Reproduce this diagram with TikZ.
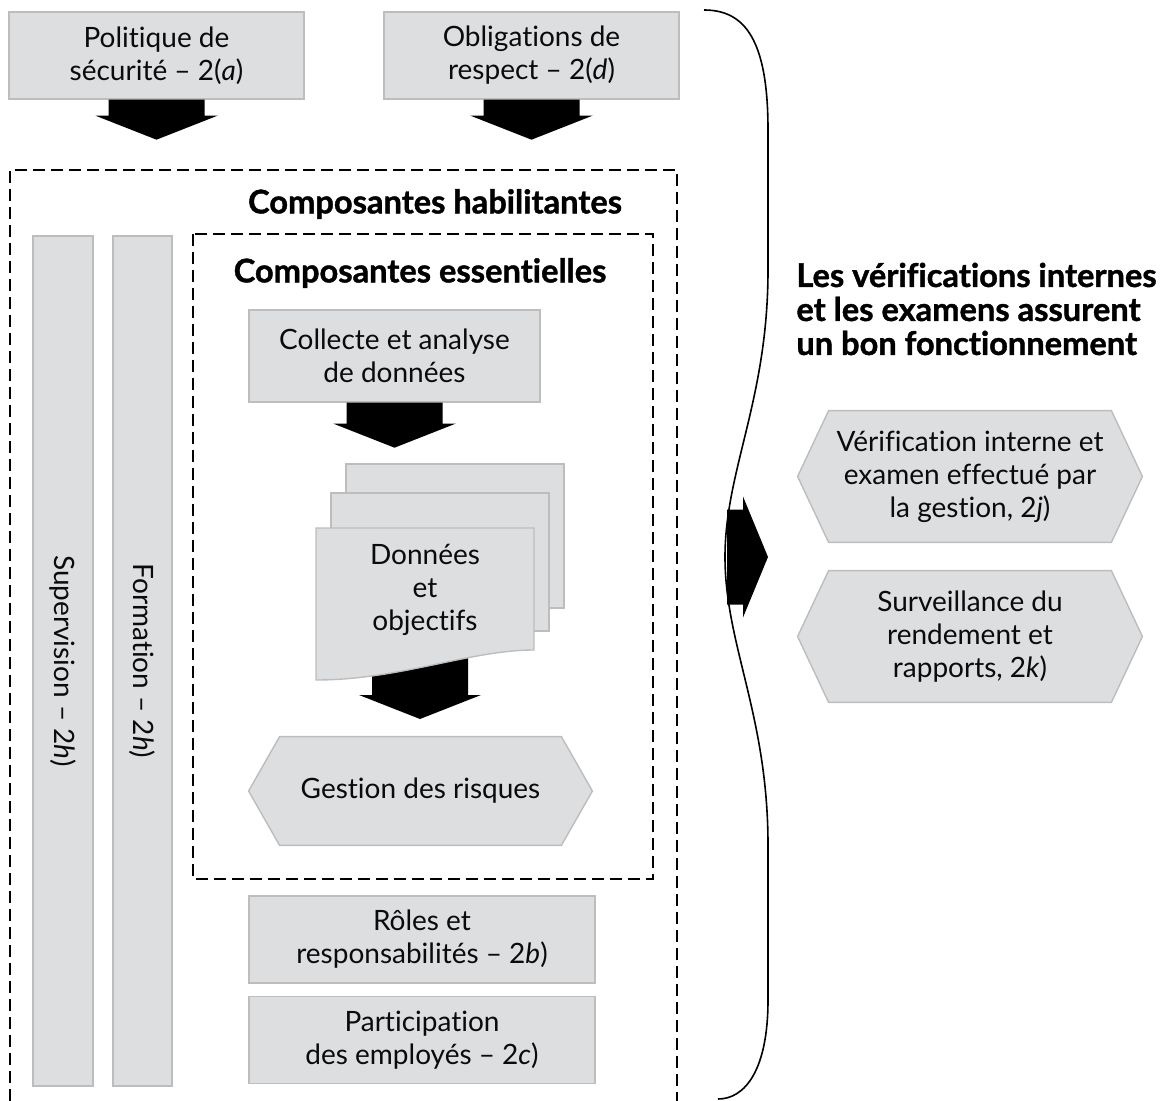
\documentclass[tikz,border=0pt]{standalone}
\usepackage{fontspec}
\setmainfont{Lato}[Ligatures=NoCommon,Contextuals=NoAlternate,
  BoldFeatures={FakeBold=1.2}]
\usepackage{xcolor}
\usetikzlibrary{calc,backgrounds}
\definecolor{tinta}{HTML}{0B0B0B}
\definecolor{grisCaja}{HTML}{DDDEE0}
\definecolor{bordeCaja}{HTML}{BDBDBD}

\tikzset{
  caja/.style={draw=bordeCaja,fill=grisCaja,line width=0.7pt,align=center,
               inner sep=0pt,font=\fontsize{14}{16.5}\selectfont\color{tinta}},
  textohex/.style={align=center,inner sep=0pt,
               font=\fontsize{14}{16.5}\selectfont\color{tinta}},
  hoja/.style={draw=bordeCaja,fill=grisCaja,line width=0.7pt},
  titulo/.style={inner sep=0pt,font=\fontsize{16.3}{17}\selectfont\bfseries},
  marco/.style={dash pattern=on 6pt off 3pt,line width=0.7pt},
  pics/flecha/.style={code={
    \fill[black] (-48,0) -- (48,0) -- (48,#1) -- (61,#1) -- (0,#1+24)
      -- (-61,#1) -- (-48,#1) -- cycle;}},
  pics/flechader/.style={code={
    \fill[black] (0,-47.5) -- (#1,-47.5) -- (#1,-60.5) -- (#1+25,0)
      -- (#1,60.5) -- (#1,47.5) -- (0,47.5) -- cycle;}},
}
\newcommand{\hexa}[1]{%
  \draw[hoja] (#1.west) -- ([xshift=15.5pt]#1.north west)
    -- ([xshift=-15.5pt]#1.north east) -- (#1.east)
    -- ([xshift=-15.5pt]#1.south east) -- ([xshift=15.5pt]#1.south west) -- cycle;}

\begin{document}
\begin{tikzpicture}[x=0.5pt,y=-0.5pt]
  \useasboundingbox (0,0) rectangle (1162,1101);
  % entradas
  \node[caja,minimum width=147.5pt,minimum height=43.5pt] (pol) at (156.5,55.5)
    {Politique de\\sécurité – 2(\textit{a})};
  \node[caja,minimum width=147.5pt,minimum height=43.5pt] (obl) at (531.5,55.5)
    {Obligations de\\respect – 2(\textit{d})};
  \pic at (pol.south) {flecha=16};
  \pic at (obl.south) {flecha=16};
  % composantes habilitantes
  \draw[marco] (10,1101) -- (10,170) -- (677,170) -- (677,1101);
  \node[titulo] (hab) at (435,204) {Composantes habilitantes};
  \node[caja,rotate=-90,minimum width=425pt,minimum height=30pt] (sup) at (63,661)
    {Supervision – 2\textit{h})};
  \node[caja,rotate=-90,minimum width=425pt,minimum height=29.5pt] (for) at (142.5,661)
    {Formation – 2\textit{h})};
  % composantes essentielles
  \draw[marco] (193,234) rectangle (653,879);
  \node[titulo] (ess) at (420,273) {Composantes essentielles};
  \node[caja,minimum width=145.5pt,minimum height=46pt] (col) at (394.5,356)
    {Collecte et analyse\\de données};
  \pic at (col.south) {flecha=21};
  \pic at (420,650) {flecha=45};
  \draw[hoja] (346,464) rectangle (564,608);
  \draw[hoja] (331,493) rectangle (549,631);
  \draw[hoja] (316,528) -- (534,528) -- (534,650)
    .. controls (470,650) and (400,680) .. (316,680) -- cycle;
  \node[textohex] (don) at (425,590) {Données\\et\\objectifs};
  \node[textohex,minimum width=171.5pt,minimum height=54pt] (rie) at (420.5,791)
    {Gestion des risques};
  \node[caja,minimum width=173pt,minimum height=43.5pt] (rol) at (422,939.5)
    {Rôles et\\responsabilités – 2\textit{b})};
  \node[caja,minimum width=173pt,minimum height=43.5pt] (par) at (422,1040)
    {Participation\\des employés – 2\textit{c})};
  % accolade et examens
  \pic at (727,557) {flechader=16};
  \draw[line width=0.8pt] (704,10) .. controls (745,10) and (768,40) .. (768,130)
    -- (768,270) .. controls (768,400) and (725,470) .. (725,557)
    .. controls (725,645) and (768,715) .. (768,845)
    -- (768,1000) .. controls (768,1070) and (745,1099) .. (718,1099);
  \node[titulo,anchor=west,align=left] (ver) at (796,309)
    {Les vérifications internes\\et les examens assurent\\un bon fonctionnement};
  \node[textohex,minimum width=172pt,minimum height=65.5pt] (vin) at (970,476.5)
    {Vérification interne et\\examen effectué par\\la gestion, 2\textit{j})};
  \node[textohex,minimum width=172pt,minimum height=65.5pt] (sur) at (970,636.5)
    {Surveillance du\\rendement et\\rapports, 2\textit{k})};
  \begin{scope}[on background layer]
    \hexa{rie}
    \hexa{vin}
    \hexa{sur}
  \end{scope}
\end{tikzpicture}
\end{document}
